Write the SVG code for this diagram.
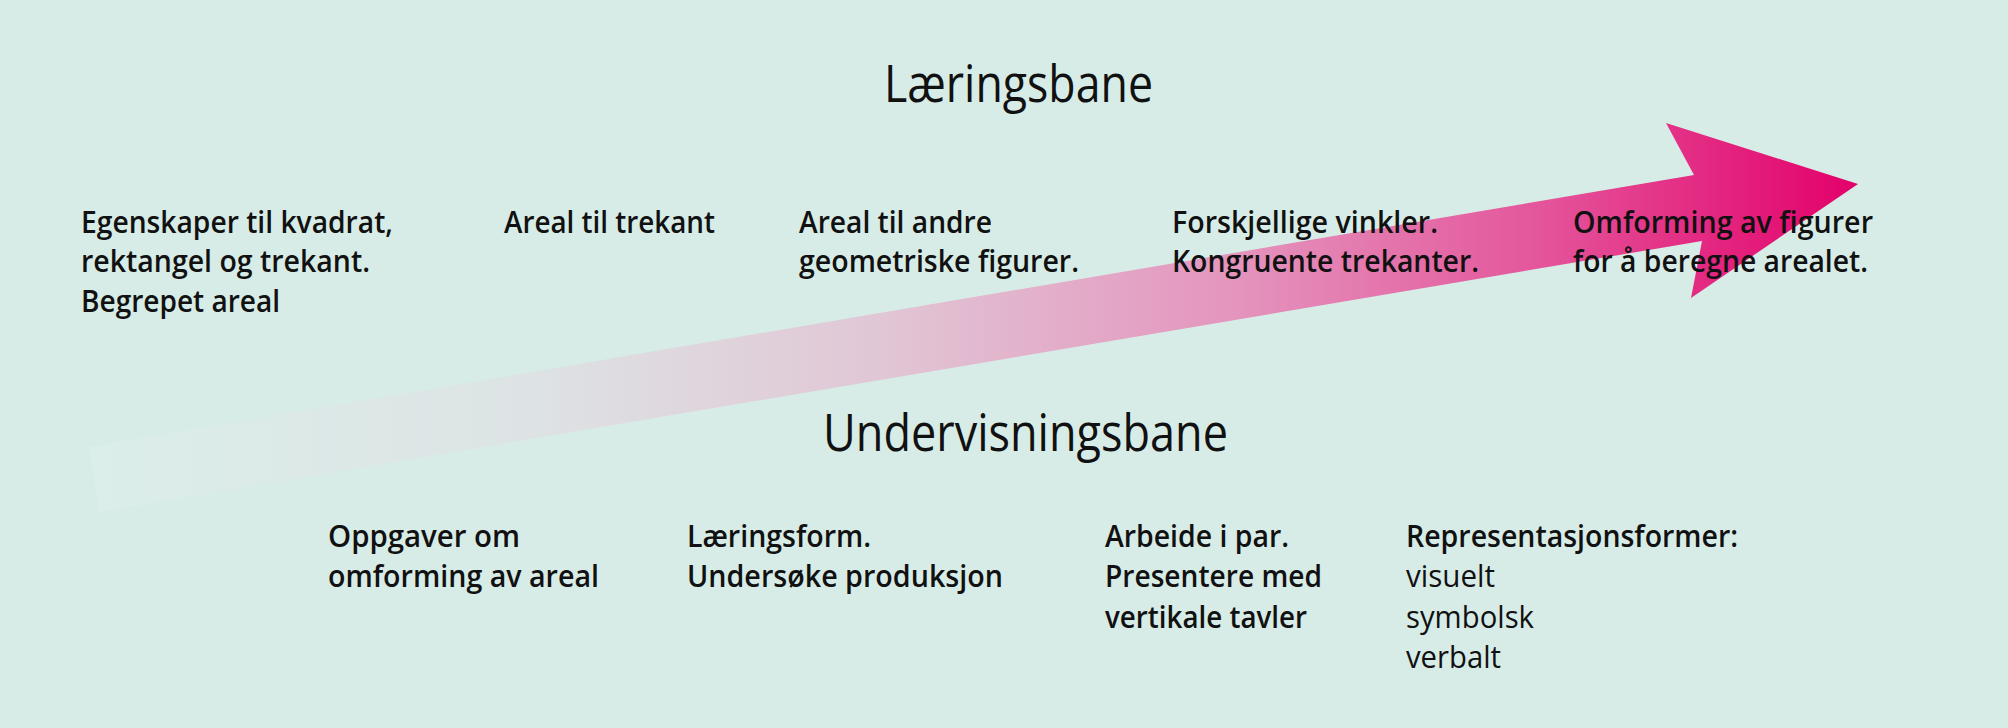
<svg xmlns="http://www.w3.org/2000/svg" width="2008" height="728" viewBox="0 0 2008 728">
<defs>
<linearGradient id="arrowGrad" gradientUnits="userSpaceOnUse" x1="89" y1="0" x2="1858" y2="0">
<stop offset="0" stop-color="#dbeeea"/>
<stop offset="0.25" stop-color="#dde3e4"/>
<stop offset="0.45" stop-color="#e1c6d5"/>
<stop offset="0.65" stop-color="#e494bd"/>
<stop offset="0.82" stop-color="#e4559b"/>
<stop offset="1" stop-color="#e3006a"/>
</linearGradient>
<style>
.b{font-family:"Open Sans","Noto Sans","DejaVu Sans",sans-serif;font-size:31px;font-weight:600;fill:#111111}
.r{font-family:"Open Sans","Noto Sans","DejaVu Sans",sans-serif;font-size:31px;font-weight:400;fill:#111111}
.h{font-family:"Open Sans","Noto Sans","DejaVu Sans",sans-serif;font-size:51px;font-weight:500;fill:#111111}
</style>
</defs>
<rect x="0" y="0" width="2008" height="728" fill="#d7ece7"/>
<g id="connectors">
<polygon id="trajectory-arrow" points="89,447 1694,175 1666,123 1858,184 1691,298 1702,241 99,512" fill="url(#arrowGrad)"/>
</g>
<g id="title-laeringsbane"><text class="h" x="884" y="101.5" textLength="269" lengthAdjust="spacingAndGlyphs">Læringsbane</text></g>
<g id="title-undervisningsbane"><text class="h" x="823" y="450.5" textLength="405" lengthAdjust="spacingAndGlyphs">Undervisningsbane</text></g>
<g id="l1">
<text class="b" x="81" y="232.5" textLength="312" lengthAdjust="spacingAndGlyphs">Egenskaper til kvadrat,</text>
<text class="b" x="81" y="272" textLength="289" lengthAdjust="spacingAndGlyphs">rektangel og trekant.</text>
<text class="b" x="81" y="311.5" textLength="199" lengthAdjust="spacingAndGlyphs">Begrepet areal</text>
</g>
<g id="l2">
<text class="b" x="504" y="232.5" textLength="211" lengthAdjust="spacingAndGlyphs">Areal til trekant</text>
</g>
<g id="l3">
<text class="b" x="799" y="232.5" textLength="193" lengthAdjust="spacingAndGlyphs">Areal til andre</text>
<text class="b" x="799" y="272" textLength="280" lengthAdjust="spacingAndGlyphs">geometriske figurer.</text>
</g>
<g id="l4">
<text class="b" x="1172" y="232.5" textLength="266" lengthAdjust="spacingAndGlyphs">Forskjellige vinkler.</text>
<text class="b" x="1172" y="272" textLength="307" lengthAdjust="spacingAndGlyphs">Kongruente trekanter.</text>
</g>
<g id="l5">
<text class="b" x="1573" y="232.5" textLength="300" lengthAdjust="spacingAndGlyphs">Omforming av figurer</text>
<text class="b" x="1573" y="272" textLength="295" lengthAdjust="spacingAndGlyphs">for å beregne arealet.</text>
</g>
<g id="u1">
<text class="b" x="328" y="547" textLength="192" lengthAdjust="spacingAndGlyphs">Oppgaver om</text>
<text class="b" x="328" y="587" textLength="271" lengthAdjust="spacingAndGlyphs">omforming av areal</text>
</g>
<g id="u2">
<text class="b" x="687" y="547" textLength="184" lengthAdjust="spacingAndGlyphs">Læringsform.</text>
<text class="b" x="687" y="587" textLength="316" lengthAdjust="spacingAndGlyphs">Undersøke produksjon</text>
</g>
<g id="u3">
<text class="b" x="1105" y="547" textLength="184" lengthAdjust="spacingAndGlyphs">Arbeide i par.</text>
<text class="b" x="1105" y="587" textLength="217" lengthAdjust="spacingAndGlyphs">Presentere med</text>
<text class="b" x="1105" y="627.5" textLength="202" lengthAdjust="spacingAndGlyphs">vertikale tavler</text>
</g>
<g id="u4">
<text class="b" x="1406" y="547" textLength="332" lengthAdjust="spacingAndGlyphs">Representasjonsformer:</text>
<text class="r" x="1406" y="587" textLength="89" lengthAdjust="spacingAndGlyphs">visuelt</text>
<text class="r" x="1406" y="627.5" textLength="128" lengthAdjust="spacingAndGlyphs">symbolsk</text>
<text class="r" x="1406" y="668" textLength="95" lengthAdjust="spacingAndGlyphs">verbalt</text>
</g>
</svg>
